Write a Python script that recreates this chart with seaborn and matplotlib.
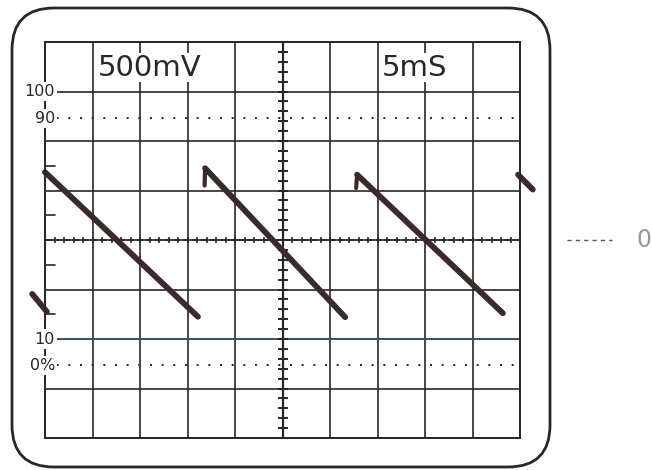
import pandas as pd
import matplotlib
matplotlib.use("Agg")
import matplotlib.pyplot as plt
from matplotlib.patches import FancyBboxPatch
import seaborn as sns

# Trazos de la onda diente de sierra (en divisiones de la pantalla)
seg_id = ["izq", "izq",
          "r1", "r1",
          "r2", "r2",
          "r3", "r3",
          "der", "der"]
seg_x = [-0.27, 0.04,
         0.00, 3.22,
         3.37, 6.32,
         6.57, 9.64,
         9.96, 10.27]
seg_y = [2.91, 2.55,
         5.37, 2.45,
         5.45, 2.44,
         5.32, 2.52,
         5.32, 5.02]

# Ganchos al comienzo de cada rampa
gancho_x = [3.37, 3.36, 6.57, 6.55]
gancho_y = [5.45, 5.10, 5.32, 5.05]
gancho_id = ["g1", "g1", "g2", "g2"]

# Escala de porcentaje (izquierda)
pct_labels = ["100", "90", "10", "0%"]
pct_pos = [7.0, 6.46, 2.0, 1.47]

volts_div = "500mV"
tiempo_div = "5mS"

df = pd.DataFrame({"x": seg_x, "y": seg_y, "seg": seg_id})
df_g = pd.DataFrame({"x": gancho_x, "y": gancho_y, "seg": gancho_id})

sns.set_style("white")
plt.rcParams["font.family"] = ["DejaVu Sans"]

ink = "#2b2626"
trace = "#3b2a2c"

fig = plt.figure(figsize=(6.52, 4.70), dpi=100)
ax = fig.add_axes([45 / 652, 1 - 438 / 470, 475 / 652, 396 / 470])
ax.set_xlim(0, 10)
ax.set_ylim(0, 8)
ax.set_xticks(range(11))
ax.set_yticks(range(9))
ax.tick_params(length=0, labelleft=False, labelbottom=False)
ax.grid(True, color=ink, lw=1.2)
for s in ax.spines.values():
    s.set_color(ink)
    s.set_linewidth(1.4)

# lineas punteadas 90% y 0%
for yy in (pct_pos[1], pct_pos[3]):
    ax.axhline(yy, color=ink, lw=1.4, ls=(0, (1, 5)))
# linea del 10% con tinte azulado
ax.axhline(pct_pos[2], color="#3d4f7a", lw=1.4)

# ejes centrales graduados
ax.axvline(5, color=ink, lw=1.6)
ax.axhline(4, color=ink, lw=1.2, ls=(0, (4, 1.5)))
marks = [i * 0.2 for i in range(41)]
ax.plot([5] * len(marks), marks, ls="none", marker="_", ms=7, mew=1.4, color=ink)
marks_x = [i * 0.2 for i in range(51)]
ax.plot(marks_x, [4] * len(marks_x), ls="none", marker="|", ms=5, mew=1.2, color=ink)

# marcas cortas del borde izquierdo
for yy in (5.5, 4.5, 3.5, 2.5):
    ax.plot([0, 0.22], [yy, yy], color=ink, lw=1.2)

# trazo de la onda
sns.lineplot(data=df, x="x", y="y", units="seg", estimator=None, sort=False,
             color=trace, lw=4.2, ax=ax, legend=False)
sns.lineplot(data=df_g, x="x", y="y", units="seg", estimator=None, sort=False,
             color=trace, lw=3, ax=ax, legend=False)
for ln in ax.lines:
    ln.set_clip_on(False)
    ln.set_solid_capstyle("round")
ax.set_xlabel("")
ax.set_ylabel("")

# rotulos
ax.text(1.12, 7.48, volts_div, fontsize=21, color=ink, ha="left", va="center",
        bbox=dict(fc="white", ec="none", pad=0.5))
ax.text(7.1, 7.48, tiempo_div, fontsize=21, color=ink, ha="left", va="center",
        bbox=dict(fc="white", ec="none", pad=0.5))
for lab, yy in zip(pct_labels, pct_pos):
    ax.text(0.21, yy, lab, fontsize=11.5, color=ink, ha="right", va="center",
            clip_on=False, bbox=dict(fc="white", ec="none", pad=1.5))

# referencia exterior de cero
ax.plot([10.99, 11.94], [4.0, 4.0], color="#555", lw=1.0, ls=(0, (3, 3)), clip_on=False)
ax.text(12.6, 4.0, "0", fontsize=17, color="#999", ha="center", va="center", clip_on=False)

# marco redondeado de la pantalla
frame = FancyBboxPatch((0.12, 0.03), 5.38, 4.59, boxstyle="round,pad=0,rounding_size=0.42",
                       transform=fig.dpi_scale_trans, fill=False, ec=ink, lw=2.0)
fig.patches.append(frame)

fig.savefig("out.png", dpi=100)
